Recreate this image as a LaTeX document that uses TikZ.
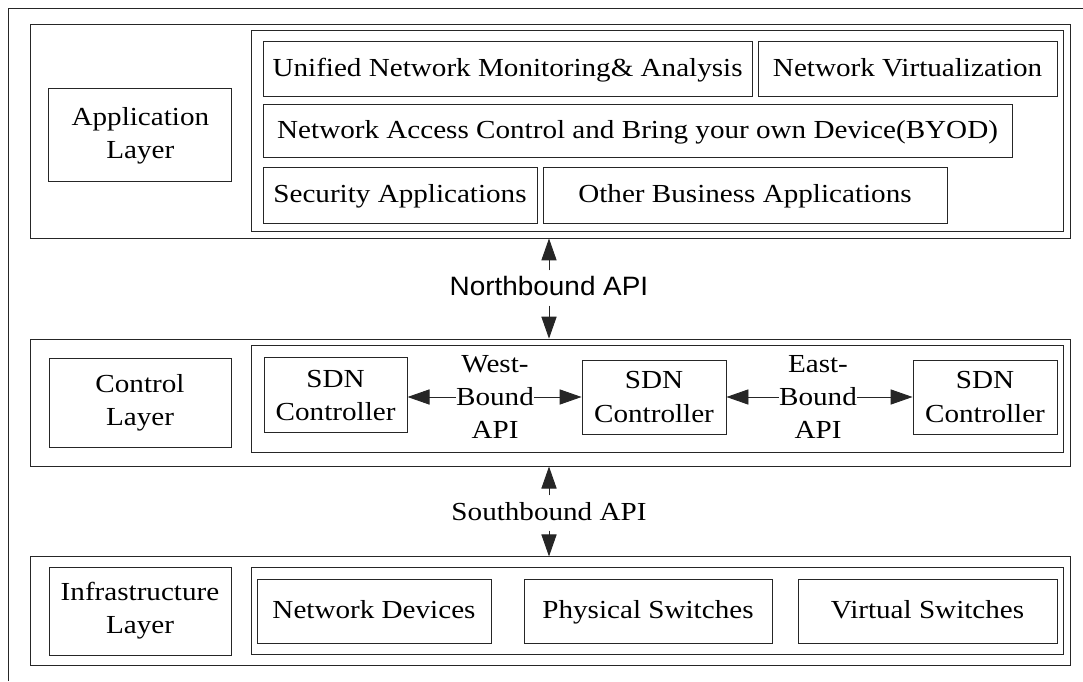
\documentclass[tikz,border=0pt]{standalone}
\usepackage{fontspec}
\setmainfont[FakeStretch=1.12]{Liberation Serif}
\newfontfamily\apifont[FakeStretch=1.05]{Liberation Sans}
\usepackage{tikz}
\usetikzlibrary{positioning, arrows.meta}

\begin{document}
\begin{tikzpicture}[
    layer/.style={rectangle, draw=black!85, line width=0.65pt, inner sep=0pt},
    unit/.style={rectangle, draw=black!85, line width=0.65pt, inner sep=0pt,
                 align=center, font=\fontsize{18.5}{23.5}\selectfont},
    single/.style={text height=13.5pt, text depth=2.5pt},
    apitext/.style={inner sep=0pt, align=center, font=\fontsize{18.5}{23.5}\selectfont},
    api/.style={-{Triangle[length=0.55cm, width=0.38cm]}, line width=0.65pt, draw=black!85}
]
    \useasboundingbox (0,0) rectangle (27.075,17.025);
    % Frame
    \draw[line width=0.65pt, black!85] (0.2,0) -- (0.2,16.825) -- (27.075,16.825);

    % Application layer
    \node[layer, minimum width=26cm, minimum height=5.33cm] (appouter) at (13.75,13.74) {};
    \node[layer, minimum width=20.3cm, minimum height=5.025cm] (appinner) at (16.425,13.74) {};
    \node[unit, minimum width=4.575cm, minimum height=2.325cm] (applabel) at (3.51,13.64) {Application\\Layer};
    \node[unit, single, minimum width=12.225cm, minimum height=1.375cm] (monitor) at (12.69,15.31) {Unified Network Monitoring\& Analysis};
    \node[unit, single, minimum width=7.475cm, minimum height=1.375cm] (virtual) at (22.69,15.31) {Network Virtualization};
    \node[unit, single, minimum width=18.725cm, minimum height=1.325cm] (access) at (15.94,13.76) {Network Access Control and Bring your own Device(BYOD)};
    \node[unit, single, minimum width=6.85cm, minimum height=1.4cm] (security) at (10.0,12.15) {Security Applications};
    \node[unit, single, minimum width=10.1cm, minimum height=1.4cm] (business) at (18.625,12.15) {Other Business Applications};

    % Control layer
    \node[layer, minimum width=26cm, minimum height=3.175cm] (ctrlouter) at (13.75,6.96) {};
    \node[layer, minimum width=20.3cm, minimum height=2.675cm] (ctrlinner) at (16.425,7.04) {};
    \node[unit, minimum width=4.55cm, minimum height=2.225cm] (ctrllabel) at (3.5,6.96) {Control\\Layer};
    \node[unit, minimum width=3.575cm, minimum height=1.875cm] (sdnwest) at (8.39,7.14) {SDN\\Controller};
    \node[unit, minimum width=3.6cm, minimum height=1.85cm] (sdnmid) at (16.35,7.1) {SDN\\Controller};
    \node[unit, minimum width=3.6cm, minimum height=1.85cm] (sdneast) at (24.625,7.1) {SDN\\Controller};
    \node[apitext] (westapi) at (12.375,7.1) {West-\\Bound\\API};
    \node[apitext] (eastapi) at (20.45,7.1) {East-\\Bound\\API};

    % Infrastructure layer
    \node[layer, minimum width=26cm, minimum height=2.725cm] (infraouter) at (13.75,1.74) {};
    \node[layer, minimum width=20.3cm, minimum height=2.175cm] (infrainner) at (16.425,1.74) {};
    \node[unit, minimum width=4.55cm, minimum height=2.2cm] (infralabel) at (3.5,1.75) {Infrastructure\\Layer};
    \node[unit, single, minimum width=5.85cm, minimum height=1.6cm] (devices) at (9.35,1.75) {Network Devices};
    \node[unit, single, minimum width=6.2cm, minimum height=1.6cm] (physical) at (16.2,1.75) {Physical Switches};
    \node[unit, single, minimum width=6.475cm, minimum height=1.6cm] (vswitch) at (23.19,1.75) {Virtual Switches};

    % APIs between layers
    \node[inner sep=0pt, single, font=\apifont\fontsize{18.9}{22}\selectfont] (northapi) at (13.725,9.825) {Northbound API};
    \node[apitext, single] (southapi) at (13.725,4.2) {Southbound API};

    \draw[api] ([yshift=0.15cm]northapi.north) -- (northapi.north |- appouter.south);
    \draw[api] ([yshift=-0.15cm]northapi.south) -- (northapi.south |- ctrlouter.north);
    \draw[api] ([yshift=0.15cm]southapi.north) -- (southapi.north |- ctrlouter.south);
    \draw[api] ([yshift=-0.15cm]southapi.south) -- (southapi.south |- infraouter.north);

    \draw[api] (westapi.west) -- (westapi.west -| sdnwest.east);
    \draw[api] (westapi.east) -- (westapi.east -| sdnmid.west);
    \draw[api] (eastapi.west) -- (eastapi.west -| sdnmid.east);
    \draw[api] (eastapi.east) -- (eastapi.east -| sdneast.west);
\end{tikzpicture}
\end{document}
